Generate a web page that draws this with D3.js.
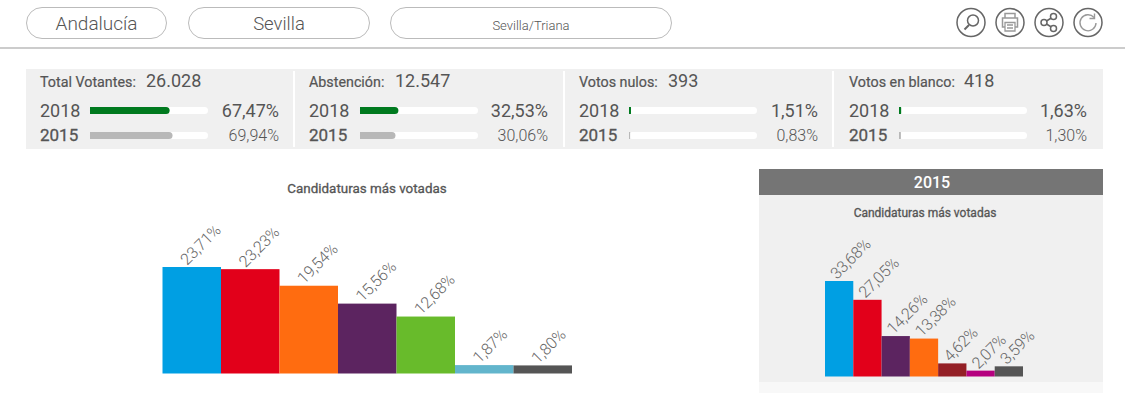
<!DOCTYPE html>
<html>
<head>
<meta charset="utf-8">
<script src="https://cdn.jsdelivr.net/npm/d3@7"></script>
<style>
  html, body { margin: 0; padding: 0; background: #fff; overflow: hidden; }
  svg { display: block; }
  text { font-family: Roboto, sans-serif; fill: #555; }
</style>
</head>
<body>
<svg id="chart" width="1125" height="393"></svg>
<script>
// top filters
const filterLabels = ['Andalucía', 'Sevilla', 'Sevilla/Triana']

// summary boxes
const statTitles = ['Total Votantes:', 'Abstención:', 'Votos nulos:', 'Votos en blanco:']
const statTotals = ['26.028', '12.547', '393', '418']
const statYears = ['2018', '2015']
const stat2018 = [67.47, 32.53, 1.51, 1.63]
const stat2015 = [69.94, 30.06, 0.83, 1.30]

// bars
const parties2018 = ['PP', 'PSOE', 'Cs', 'AA', 'Vox', 'PACMA', 'Otros']
const values2018 = [23.71, 23.23, 19.54, 15.56, 12.68, 1.87, 1.80]
const colors2018 = ['#009fe3', '#e2001a', '#ff6c10', '#5c2460', '#68bb2b', '#62b5cc', '#555555']

const parties2015 = ['PP', 'PSOE', 'Podemos', 'Cs', 'IU', 'UPyD', 'Otros']
const values2015 = [33.68, 27.05, 14.26, 13.38, 4.62, 2.07, 3.59]
const colors2015 = ['#009fe3', '#e2001a', '#5c2460', '#ff6c10', '#931f25', '#b5007f', '#555555']

const fmt = v => v.toFixed(2).replace('.', ',') + '%'

const svg = d3.select('#chart')

// header
const pills = [{x: 26, w: 141, size: 19}, {x: 188, w: 182, size: 18.5}, {x: 390, w: 282, size: 13}]
filterLabels.forEach((label, i) => {
  const p = pills[i]
  svg.append('rect')
    .attr('x', p.x + 0.5).attr('y', 7.5)
    .attr('width', p.w - 1).attr('height', 31).attr('rx', 15.5)
    .attr('fill', '#fff').attr('stroke', '#bbb')
  svg.append('text')
    .attr('x', p.x + p.w / 2).attr('y', 30)
    .attr('text-anchor', 'middle')
    .attr('font-size', p.size).attr('font-weight', 300)
    .text(label)
})
svg.append('rect').attr('x', 0).attr('y', 47).attr('width', 1125).attr('height', 2).attr('fill', '#ccc')

// icons
const icons = svg.append('g').attr('fill', 'none').attr('stroke', '#666')
const iconX = [971, 1010, 1049, 1088]
iconX.forEach(x => {
  icons.append('circle').attr('cx', x).attr('cy', 22.5).attr('r', 14).attr('stroke-width', 1.5)
})
// lupa
icons.append('circle').attr('cx', 973).attr('cy', 20.5).attr('r', 5.5).attr('stroke-width', 1.5)
icons.append('path').attr('d', 'M969 25 L964.5 29.5').attr('stroke-width', 2)
// impresora
icons.append('path').attr('d', 'M1005 18 V13.5 H1015 V18 M1005 27 H1002.5 V18 H1017.5 V27 H1015').attr('stroke', '#999').attr('stroke-width', 1.5)
icons.append('path').attr('d', 'M1005 22.5 H1015 V31 H1005 Z M1007 25 H1013 M1007 28 H1013').attr('stroke', '#999').attr('stroke-width', 1.3)
// compartir
icons.append('path').attr('d', 'M1044 22.5 L1053 17 M1044 22.5 L1053 28').attr('stroke-width', 1.5)
icons.selectAll('.share').data([[1044, 22.5], [1053.5, 16.5], [1053.5, 28.5]]).join('circle')
  .attr('class', 'share').attr('cx', d => d[0]).attr('cy', d => d[1]).attr('r', 3)
  .attr('fill', '#fff').attr('stroke-width', 1.5)
// recargar
icons.append('path').attr('d', 'M1094 17.5 A8 8 0 1 0 1096 23').attr('stroke', '#999').attr('stroke-width', 1.4)
icons.append('path').attr('d', 'M1094.5 13.5 V18.5 H1089.5').attr('stroke', '#999').attr('stroke-width', 1.4)

// summary
svg.append('rect').attr('x', 26).attr('y', 69).attr('width', 1077).attr('height', 80).attr('fill', '#f0f0f0')
svg.selectAll('.sep').data([293, 563, 832]).join('rect')
  .attr('class', 'sep')
  .attr('x', d => d).attr('y', 71).attr('width', 2).attr('height', 76).attr('fill', '#fff')

const boxes = [
  {title: 40, total: 146, year: 40, bar: 90, barW: 118, right: 279},
  {title: 309, total: 395, year: 309, bar: 360, barW: 118, right: 548},
  {title: 579, total: 668, year: 579, bar: 629, barW: 128, right: 818},
  {title: 849, total: 964, year: 849, bar: 899, barW: 128, right: 1087}
]

statTitles.forEach((title, i) => {
  const b = boxes[i]
  const x = d3.scaleLinear().domain([0, 100]).range([0, b.barW])
  svg.append('text').attr('x', b.title).attr('y', 87).attr('font-size', 14.3)
    .style('stroke', '#555').style('stroke-width', 0.2).text(title)
  svg.append('text').attr('x', b.total).attr('y', 87).attr('font-size', 18).text(statTotals[i])

  statYears.forEach((year, j) => {
    const value = j == 0 ? stat2018[i] : stat2015[i]
    const barY = j == 0 ? 107 : 132
    const textY = j == 0 ? 117 : 141
    const w = x(value)
    svg.append('text').attr('x', b.year).attr('y', textY)
      .attr('font-size', j == 0 ? 18 : 17)
      .style('stroke', '#555').style('stroke-width', j == 0 ? 0 : 0.3)
      .text(year)
    svg.append('rect').attr('x', b.bar).attr('y', barY)
      .attr('width', b.barW).attr('height', 7).attr('rx', 3.5).attr('fill', '#fff')
    const color = j == 0 ? '#007a1f' : '#b8b8b8'
    svg.append('rect').attr('x', b.bar).attr('y', barY)
      .attr('width', w).attr('height', 7).attr('rx', Math.min(3.5, w / 2))
      .attr('fill', color)
    // left end is square in the original
    svg.append('rect').attr('x', b.bar).attr('y', barY)
      .attr('width', Math.min(4, w)).attr('height', 7)
      .attr('fill', color)
    svg.append('text').attr('x', b.right).attr('y', textY)
      .attr('text-anchor', 'end')
      .attr('font-size', j == 0 ? 18 : 16)
      .attr('font-weight', j == 0 ? 400 : 300)
      .text(fmt(value))
  })
})

// 2015 panel
svg.append('rect').attr('x', 759).attr('y', 169).attr('width', 344).attr('height', 26).attr('fill', '#757575')
svg.append('rect').attr('x', 759).attr('y', 195).attr('width', 344).attr('height', 187).attr('fill', '#f0f0f0')
svg.append('rect').attr('x', 759).attr('y', 382).attr('width', 344).attr('height', 11).attr('fill', '#f8f8f8')
svg.append('text').attr('x', 932).attr('y', 188)
  .attr('text-anchor', 'middle').attr('font-size', 16).attr('font-weight', 500)
  .style('fill', '#fff').text('2015')

function barChart (names, values, colors, opts) {
  const x = d3.scaleBand().domain(names).range([opts.x0, opts.x1])
  const y = d3.scaleLinear().domain([0, opts.maxV]).range([opts.base, opts.top])
  const rows = names.map((n, i) => ({name: n, value: values[i], color: colors[i]}))
  const g = svg.append('g')

  g.selectAll('rect').data(rows).join('rect')
    .attr('x', d => x(d.name)).attr('y', d => y(d.value))
    .attr('width', x.bandwidth()).attr('height', d => opts.base - y(d.value))
    .attr('fill', d => d.color)

  g.selectAll('text').data(rows).join('text')
    .attr('transform', d => `translate(${x(d.name) + opts.dx},${y(d.value) - opts.dy}) rotate(-45)`)
    .attr('font-size', opts.size).attr('font-weight', 300)
    .style('fill', '#666')
    .style('letter-spacing', '-0.2px')
    .text(d => fmt(d.value))

  svg.append('text').attr('x', opts.titleX).attr('y', opts.titleY)
    .attr('text-anchor', 'middle').attr('font-size', opts.titleSize)
    .style('stroke', '#555').style('stroke-width', 0.3)
    .text('Candidaturas más votadas')
}

barChart(parties2018, values2018, colors2018, {
  x0: 162.5, x1: 572, base: 373.5, top: 267, maxV: 23.71,
  dx: 24.5, dy: 1, size: 16, titleX: 367, titleY: 193, titleSize: 13.4
})
barChart(parties2015, values2015, colors2015, {
  x0: 825, x1: 1023, base: 376.5, top: 281, maxV: 33.68,
  dx: 12, dy: 1, size: 16, titleX: 925, titleY: 217, titleSize: 12
})
</script>
</body>
</html>
